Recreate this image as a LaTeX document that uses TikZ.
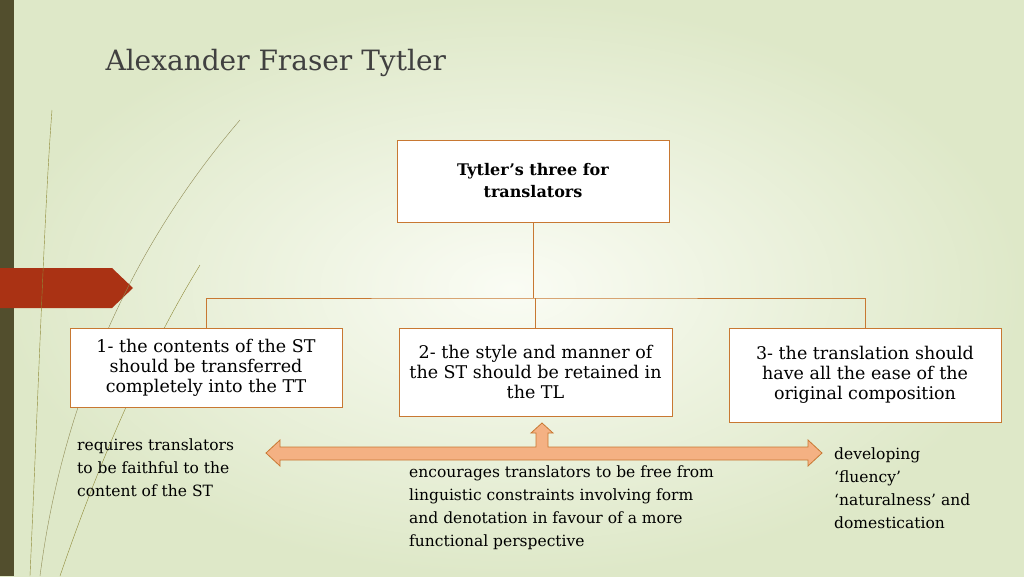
\documentclass[tikz,border=0pt]{standalone}
\usepackage{fontspec}
\setmainfont{DejaVu Serif}
\usetikzlibrary{positioning, calc}
\definecolor{boxline}{RGB}{200,120,50}
\definecolor{arrowfill}{RGB}{244,177,131}
\definecolor{bgpale}{RGB}{250,252,244}
\definecolor{bggreen}{RGB}{222,232,200}
\definecolor{tabred}{RGB}{170,50,20}
\tikzset{font=\fontsize{17.5}{20}\selectfont}
\tikzset{item/.style={draw=boxline, fill=white, align=center, inner sep=0pt}}
\tikzset{note/.style={align=left, anchor=north west, inner sep=0pt, font=\fontsize{15.5}{23}\selectfont}}
\tikzset{link/.style={draw=boxline, thick}}
\begin{document}
\begin{tikzpicture}[x=1pt, y=-1pt]
  % Background
  \shade[inner color=bgpale, outer color=bggreen] (0,0) rectangle (1024,576);
  \useasboundingbox (0,0) rectangle (1024,576);
  \fill[black!55!olive] (0,0) rectangle (14,576);
  \fill[tabred] (0,268) -- (112,268) -- (133,288) -- (112,308) -- (0,308) -- cycle;
  \draw[olive!60!gray] (30,576) .. controls (40,350) and (45,200) .. (52,110);
  \draw[olive!60!gray] (60,576) .. controls (110,430) and (160,330) .. (200,265);
  \draw[olive!40!gray] (40,576) .. controls (60,420) and (120,260) .. (240,120);
  % Title
  \node[anchor=west, font=\fontsize{28}{34}\selectfont, text=black!75] (title) at (102,63) {Alexander Fraser Tytler};
  % Boxes
  \node[item, minimum width=272, minimum height=82, font=\bfseries\fontsize{16}{22}\selectfont] (top) at (533,181) {Tytler’s three for\\translators};
  \node[item, minimum width=272, minimum height=79] (one) at (206,367.5) {1- the contents of the ST\\should be transferred\\completely into the TT};
  \node[item, minimum width=273, minimum height=88] (two) at (535.5,372) {2- the style and manner of\\the ST should be retained in\\the TL};
  \node[item, minimum width=272, minimum height=94] (three) at (865,375) {3- the translation should\\have all the ease of the\\original composition};
  % Connectors
  \coordinate (bus) at (533,298);
  \draw[link] (top.south) -- (bus);
  \draw[link] (one.north) |- (bus) -| (three.north);
  \draw[link] (two.north) -- (two.north |- bus);
  % Three-way arrow
  \filldraw[fill=arrowfill, draw=boxline, thick]
    (266,453) -- (280,440) -- (280,447) -- (536,447) -- (536,433) -- (531,433)
    -- (542,423) -- (553,433) -- (548,433) -- (548,447) -- (808,447) -- (808,440)
    -- (822,453) -- (808,466) -- (808,460) -- (280,460) -- (280,466) -- cycle;
  % Notes
  \node[note] (faith) at (77,439) {requires translators\\to be faithful to the\\content of the ST};
  \node[note] (free) at (409,466) {encourages translators to be free from\\linguistic constraints involving form\\and denotation in favour of a more\\functional perspective};
  \node[note] (fluent) at (834,448) {developing\\‘fluency’\\‘naturalness’ and\\domestication};
\end{tikzpicture}
\end{document}
